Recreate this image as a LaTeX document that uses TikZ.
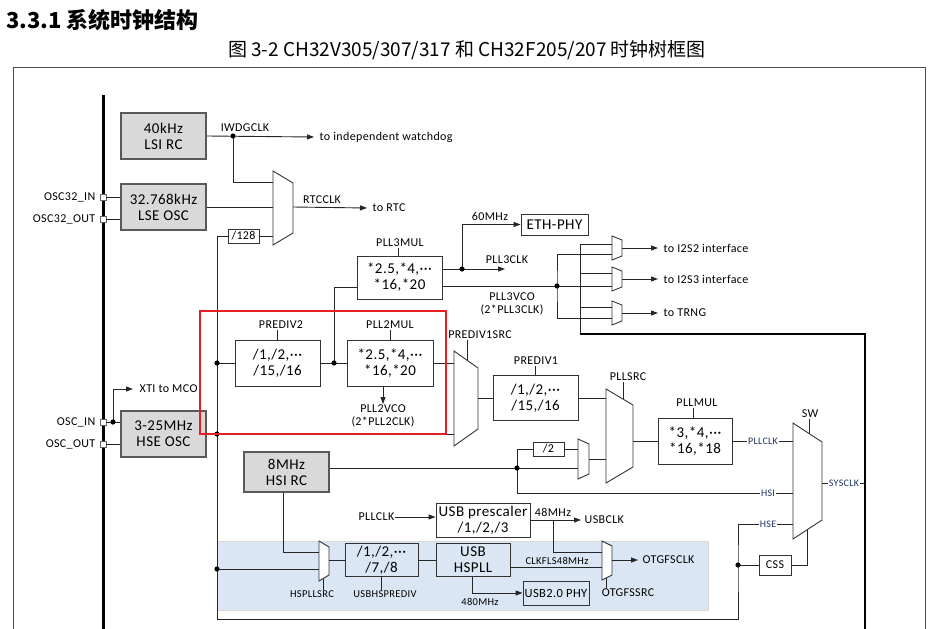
\documentclass[tikz,border=0pt]{standalone}
\usepackage{fontspec}
\setmainfont{Carlito}[LetterSpace=3]
\newfontfamily\cjk{Noto Sans CJK SC}
\usetikzlibrary{arrows.meta}
\definecolor{usbbg}{RGB}{218,230,243}
\definecolor{redmark}{RGB}{232,30,38}
\definecolor{tagblue}{RGB}{31,50,100}
\begin{document}
\begin{tikzpicture}[x=1pt, y=-1pt, line join=miter, >={Triangle[length=7pt,width=5pt]},
	wire/.style={line width=0.9pt, draw=black!85},
	gate/.style={line width=0.9pt, draw=black!80, fill=white},
	osc/.style={draw=black!65, line width=1.4pt, fill=black!15, minimum width=85pt, minimum height=46pt, inner sep=0pt, align=center, font=\fontsize{15}{16}\selectfont},
	blk/.style={draw=black!80, line width=0.9pt, fill=white, inner sep=0pt, align=center, font=\fontsize{15}{16}\selectfont},
	lbl/.style={inner sep=0.5pt, align=center, font=\fontsize{12}{13}\selectfont},
	sub/.style={inner sep=0.5pt, font=\fontsize{10.5}{12}\selectfont},
	tag/.style={fill=white, inner sep=1pt, text=tagblue, font=\fontsize{10}{11}\selectfont},
	pin/.style={draw=black!60, fill=white, line width=0.8pt, minimum size=6pt, inner sep=0pt}]
	\def\muxbox#1#2#3#4#5{\draw[gate] (#1,#2) -- (#1+#3,#2+#5) -- (#1+#3,#2+#4-#5) -- (#1,#2+#4) -- cycle;}
	\useasboundingbox (0,0) rectangle (932,629);
	% heading and caption
	\node[anchor=west, inner sep=0pt, font=\cjk\bfseries\fontsize{22}{24}\selectfont] (title) at (6,20) {3.3.1 系统时钟结构};
	\node[inner sep=0pt, font=\cjk\fontsize{19}{21}\selectfont] (caption) at (467,50) {图 3-2 CH32V305/307/317 和 CH32F205/207 时钟树框图};
	% frame, usb area, buses
	\fill[usbbg, draw=black!15] (217,541) rectangle (708,610);
	\draw[line width=1pt, black!70] (13,629) -- (13,67) -- (925,67) -- (925,629);
	\draw[line width=3pt] (103,95) -- (103,629);
	% oscillators
	\node[osc] (lsi) at (163.5,136) {40kHz\\LSI RC};
	\node[osc] (lse) at (163.5,207) {32.768kHz\\LSE OSC};
	\node[osc] (hse) at (163.5,434) {3-25MHz\\HSE OSC};
	\node[osc, minimum height=40pt] (hsi) at (286.5,472) {8MHz\\HSI RC};
	% pins
	\node[pin] (p1) at (103,197) {};
	\node[pin] (p2) at (103,219) {};
	\node[pin] (p3) at (103,422) {};
	\node[pin] (p4) at (103,444) {};
	\node[lbl, anchor=east] (p1l) at (96,197) {OSC32\_IN};
	\node[lbl, anchor=east] (p2l) at (96,219) {OSC32\_OUT};
	\node[lbl, anchor=east] (p3l) at (96,422) {OSC\_IN};
	\node[lbl, anchor=east] (p4l) at (96,444) {OSC\_OUT};
	\draw[wire] (p1) -- (p1 -| lse.west);
	\draw[wire] (p2) -- (p2 -| lse.west);
	\draw[wire] (p3) -- (p3 -| hse.west);
	\draw[wire] (p4) -- (p4 -| hse.west);
	% blocks
	\node[blk, minimum width=31pt, minimum height=14pt, font=\fontsize{12}{13}\selectfont] (d128) at (243.5,236) {/128};
	\node[blk, minimum width=85pt, minimum height=46pt] (prediv2) at (277.5,363) {/1,/2,···\\/15,/16};
	\node[blk, minimum width=86pt, minimum height=46pt] (pll2) at (390,363) {*2.5,*4,···\\*16,*20};
	\node[blk, minimum width=85pt, minimum height=43pt] (pll3) at (399.5,277.5) {*2.5,*4,···\\*16,*20};
	\node[blk, minimum width=67pt, minimum height=21pt] (eth) at (554.5,224.5) {ETH-PHY};
	\node[blk, minimum width=85pt, minimum height=45pt] (prediv1) at (535.5,398) {/1,/2,···\\/15,/16};
	\node[blk, minimum width=31pt, minimum height=14pt, font=\fontsize{12}{13}\selectfont] (d2) at (548.5,449) {/2};
	\node[blk, minimum width=74pt, minimum height=46pt] (pllmul) at (695,441) {*3,*4,···\\*16,*18};
	\node[blk, minimum width=32pt, minimum height=20pt, font=\fontsize{12}{13}\selectfont] (css) at (775,565) {CSS};
	\node[blk, minimum width=94pt, minimum height=34pt] (presc) at (483,520) {USB prescaler\\/1,/2,/3};
	\node[blk, fill=none, minimum width=73pt, minimum height=33pt] (usbdiv) at (381.5,560) {/1,/2,···\\/7,/8};
	\node[blk, fill=none, minimum width=74pt, minimum height=33pt] (hspll) at (473,560) {USB\\HSPLL};
	\node[blk, fill=none, minimum width=66pt, minimum height=24pt, font=\fontsize{12.5}{13}\selectfont] (phy) at (556,593) {USB2.0 PHY};
	% selectors
	\muxbox{273}{171}{20}{74}{12}
	\muxbox{612}{236}{10}{24}{4}
	\muxbox{612}{267}{10}{24}{4}
	\muxbox{612}{301}{10}{24}{4}
	\muxbox{454}{351}{24}{95}{17}
	\muxbox{606}{389}{27}{94}{16}
	\muxbox{578}{439}{11}{40}{5}
	\muxbox{793}{423}{29}{116}{19}
	\muxbox{319}{541}{10}{40}{6}
	\muxbox{602}{541}{10}{39}{5}
	% selector ports
	\coordinate (rtc1) at (273,182); \coordinate (rtc2) at (273,207); \coordinate (rtc3) at (273,236); \coordinate (rtco) at (293,207);
	\coordinate (i2a) at (612,244); \coordinate (i2b) at (612,254); \coordinate (i2o) at (622,248);
	\coordinate (i3a) at (612,273); \coordinate (i3b) at (612,286); \coordinate (i3o) at (622,279);
	\coordinate (ta) at (612,307); \coordinate (tb) at (612,318); \coordinate (to) at (622,313);
	\coordinate (ps1) at (454,363); \coordinate (ps2) at (454,434); \coordinate (pso) at (478,398); \coordinate (pss) at (467,360);
	\coordinate (pl1) at (606,398); \coordinate (pl2) at (606,459); \coordinate (plo) at (633,441); \coordinate (pls) at (623,399);
	\coordinate (sm1) at (578,449); \coordinate (sm2) at (578,468); \coordinate (smo) at (589,459);
	\coordinate (swa) at (793,441); \coordinate (swb) at (793,493); \coordinate (swc) at (793,524); \coordinate (swo) at (822,483);
	\coordinate (sws) at (807,530); \coordinate (swt) at (809,433);
	\coordinate (hs1) at (319,552); \coordinate (hs2) at (319,569); \coordinate (hso) at (329,560); \coordinate (hst) at (323,579);
	\coordinate (ot1) at (602,552); \coordinate (ot2) at (602,567); \coordinate (oto) at (612,560); \coordinate (ott) at (606,578);
	% junctions
	\coordinate (j1) at (233,136);
	\coordinate (jx) at (113,422);
	\coordinate (j2) at (217,363);
	\coordinate (j3) at (217,434);
	\coordinate (j4) at (217,569);
	\coordinate (j5) at (334,363);
	\coordinate (j6) at (462,269);
	\coordinate (j7) at (557,286);
	\coordinate (j8) at (517,468);
	\coordinate (j9) at (738,565);
	\coordinate (j10) at (553,520);
	\coordinate (h1) at (217,619);
	\coordinate (bus) at (580,334);
	\coordinate (sysbus) at (865,334);
	% labels
	\node[lbl] (iwdg) at (245,128) {IWDGCLK};
	\node[lbl, anchor=west] (towdg) at (319,137) {to independent watchdog};
	\node[lbl] (rtcclk) at (322,200) {RTCCLK};
	\node[lbl, anchor=west] (tortc) at (372,208) {to RTC};
	\node[lbl, anchor=west] (xti) at (139,389) {XTI to MCO};
	\node[lbl] (prediv2l) at (281,325) {PREDIV2};
	\node[lbl] (pll2l) at (390,325) {PLL2MUL};
	\node[lbl] (vco2) at (383,416) {PLL2VCO\\(2*PLL2CLK)};
	\node[lbl] (pll3l) at (400,243) {PLL3MUL};
	\node[lbl] (f60) at (490,216) {60MHz};
	\node[lbl] (pll3clk) at (507,260) {PLL3CLK};
	\node[lbl] (vco3) at (512,304) {PLL3VCO\\(2*PLL3CLK)};
	\node[lbl, anchor=west] (toi2) at (663,248) {to I2S2 interface};
	\node[lbl, anchor=west] (toi3) at (663,279) {to I2S3 interface};
	\node[lbl, anchor=west] (totrng) at (663,313) {to TRNG};
	\node[lbl] (pdsrcl) at (480,335) {PREDIV1SRC};
	\node[lbl] (prediv1l) at (536,361) {PREDIV1};
	\node[lbl] (pllsrcl) at (628,377) {PLLSRC};
	\node[lbl] (pllmull) at (697,403) {PLLMUL};
	\node[lbl] (swl) at (810,414) {SW};
	\node[lbl, anchor=east] (pllclk) at (395,517) {PLLCLK};
	\node[lbl] (f48) at (553,512) {48MHz};
	\node[lbl, anchor=west] (usbclk) at (584,520) {USBCLK};
	\node[lbl, anchor=west] (otgclk) at (642,560) {OTGFSCLK};
	\node[lbl] (otgsrc) at (628,593) {OTGFSSRC};
	\node[sub] (clkfls) at (557,561) {CLKFLS48MHz};
	\node[sub] (f480) at (480,602) {480MHz};
	\node[sub] (hssrcl) at (312,594) {HSPLLSRC};
	\node[sub] (usbdivl) at (385,594) {USBHSPREDIV};
	% low speed clocks
	\draw[wire,->] (lsi.east) -- ([xshift=-5pt]towdg.west);
	\draw[wire] (j1) |- (rtc1);
	\draw[wire] (lse.east) -- (rtc2);
	\draw[wire] (d128.east) -- (rtc3);
	\draw[wire,->] (rtco) -- ([xshift=-5pt]tortc.west);
	\draw[wire,->] (jx) |- ([xshift=-6pt]xti.west);
	% hse route
	\draw[wire] (d128.west) -| (h1) -| (j9) |- (swc);
	\draw[wire] (hse.east) -- (ps2);
	\draw[wire] (j2) -- (prediv2.west);
	\draw[wire] (j4) -- (hs2);
	% pll2 and pll3
	\draw[wire] (prediv2.east) -- (pll2.west);
	\draw[wire] (j5) |- ([yshift=-9.5pt]pll3.west);
	\draw[wire,->] ([xshift=-7pt]pll2.south) -- (vco2.north);
	\draw[wire] (pll2.east) -- (ps1);
	\draw[wire,->] ([yshift=8.5pt]pll3.east) -- ([yshift=8.5pt]pll3.east -| 505,0);
	\draw[wire,->] (j6) |- (eth.west);
	\draw[wire] ([yshift=-8.5pt]pll3.east) -- (i3b);
	\draw[wire] (i2b) -| (j7) |- (tb);
	\draw[wire] (i2a) -| (bus);
	\draw[wire] (i3a) -- (i3a -| bus);
	\draw[wire] (ta) -- (ta -| bus);
	\draw[line width=2.2pt] (bus) -- (sysbus) -- (865,629);
	\draw[wire,->] (i2o) -- ([xshift=-5pt]toi2.west);
	\draw[wire,->] (i3o) -- ([xshift=-5pt]toi3.west);
	\draw[wire,->] (to) -- ([xshift=-5pt]totrng.west);
	% main pll
	\draw[wire] (pso) -- (prediv1.west);
	\draw[wire] (prediv1.east) -- (pl1);
	\draw[wire] (hsi.east |- j8) -- (sm2);
	\draw[wire] (j8) |- (d2.west);
	\draw[wire] (d2.east) -- (sm1);
	\draw[wire] (smo) -- (pl2);
	\draw[wire] (plo) -- (pllmul.west);
	\draw[wire] (j8) |- (swb);
	\draw[wire] (pllmul.east) -- (swa);
	\draw[wire] (swo) -- (swo -| sysbus);
	\draw[wire] (j9) -- (css.west);
	\draw[wire] (css.east) -| (sws);
	% usb
	\draw[wire] ([xshift=-3.5pt]hsi.south) |- (hs1);
	\draw[wire] (hso) -- (usbdiv.west);
	\draw[wire] (usbdiv.east) -- (hspll.west);
	\draw[wire] ([yshift=-7pt]hspll.east) -- (ot2);
	\draw[wire,->] ([xshift=-1pt]hspll.south) |- (phy.west);
	\draw[wire,->] (pllclk.east) -- (pllclk.east -| presc.west);
	\draw[wire,->] (presc.east) -- ([xshift=-3pt]usbclk.west);
	\draw[wire] (j10) |- (ot1);
	\draw[wire,->] (oto) -- ([xshift=-4pt]otgclk.west);
	% select lines
	\draw[wire] (prediv2.north) -- (prediv2.north |- prediv2l.south);
	\draw[wire] (pll2.north) -- (pll2.north |- pll2l.south);
	\draw[wire] ([xshift=-1.5pt]pll3.north) -- ([xshift=-1.5pt]pll3.north |- pll3l.south);
	\draw[wire] (prediv1.north) -- (prediv1.north |- prediv1l.south);
	\draw[wire] ([xshift=-2pt]pllmul.north) -- ([xshift=-2pt]pllmul.north |- pllmull.south);
	\draw[wire] (usbdiv.south) -- (usbdiv.south |- usbdivl.north);
	\draw[wire] (pss) -- (pss |- pdsrcl.south);
	\draw[wire] (pls) -- (pls |- pllsrcl.south);
	\draw[wire] (swt) -- (swt |- swl.south);
	\draw[wire] (hst) -- (hst |- hssrcl.north);
	\draw[wire] (ott) -- (ott |- otgsrc.north);
	% dots
	\foreach \j in {j1,jx,j2,j3,j4,j5,j6,j7,j8,j9} \fill (\j) circle (2.6);
	% tags on the system switch
	\node[tag] (tpll) at (763,441) {PLLCLK};
	\node[tag] (thsi) at (768,493) {HSI};
	\node[tag] (thse) at (768,524) {HSE};
	\node[tag] (tsys) at (844,483) {SYSCLK};
	% marked area
	\draw[redmark, line width=1.6pt] (200,311) rectangle (446,434);
\end{tikzpicture}
\end{document}
